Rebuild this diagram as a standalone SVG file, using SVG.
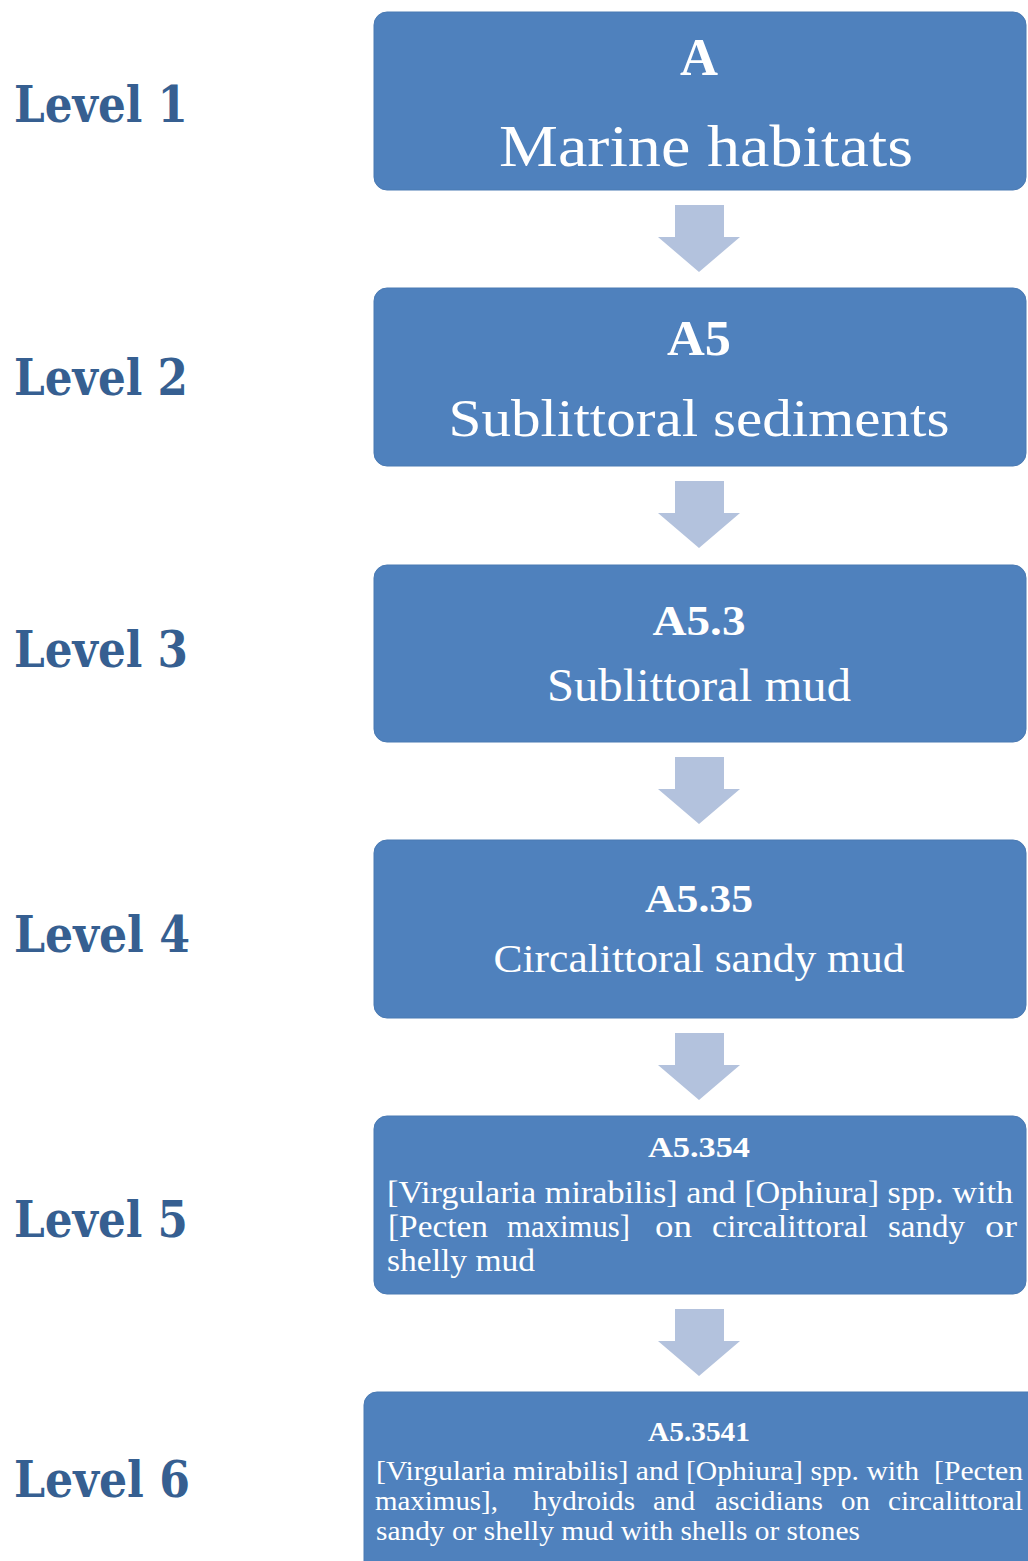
<svg xmlns="http://www.w3.org/2000/svg" width="1028" height="1561" viewBox="0 0 1028 1561">
<style>
.box{fill:#4f81bd;stroke:#4a7ab3;stroke-width:1}
.arrow{fill:#b3c2dd}
.lvl{font-family:"DejaVu Serif","Liberation Serif",serif;font-weight:bold;fill:#365f91;font-size:50px}
.t{font-family:"Liberation Serif","DejaVu Serif",serif;fill:#ffffff}
.b{font-weight:bold}
.c{text-anchor:middle}
</style>
<rect width="1028" height="1561" fill="#ffffff"/>
<g id="connectors">
<polygon class="arrow" points="675,205 724,205 724,237 740,237 699,272 658,237 675,237"/>
<polygon class="arrow" points="675,481 724,481 724,513 740,513 699,548 658,513 675,513"/>
<polygon class="arrow" points="675,757 724,757 724,789 740,789 699,824 658,789 675,789"/>
<polygon class="arrow" points="675,1033 724,1033 724,1065 740,1065 699,1100 658,1065 675,1065"/>
<polygon class="arrow" points="675,1309 724,1309 724,1341 740,1341 699,1376 658,1341 675,1341"/>
</g>
<g id="labels">
<text class="lvl" x="14" y="122" textLength="174" lengthAdjust="spacingAndGlyphs">Level 1</text>
<text class="lvl" x="14" y="395" textLength="174" lengthAdjust="spacingAndGlyphs">Level 2</text>
<text class="lvl" x="14" y="667" textLength="174" lengthAdjust="spacingAndGlyphs">Level 3</text>
<text class="lvl" x="14" y="952" textLength="176" lengthAdjust="spacingAndGlyphs">Level 4</text>
<text class="lvl" x="14" y="1237" textLength="174" lengthAdjust="spacingAndGlyphs">Level 5</text>
<text class="lvl" x="14" y="1497" textLength="176" lengthAdjust="spacingAndGlyphs">Level 6</text>
</g>
<g id="node1">
<rect class="box" x="374" y="12" width="652" height="178" rx="13"/>
<text class="t b c" x="699" y="75" font-size="52" textLength="38" lengthAdjust="spacingAndGlyphs">A</text>
<text class="t c" x="706" y="166" font-size="60" textLength="414" lengthAdjust="spacingAndGlyphs">Marine habitats</text>
</g>
<g id="node2">
<rect class="box" x="374" y="288" width="652" height="178" rx="13"/>
<text class="t b c" x="699" y="355" font-size="50" textLength="64" lengthAdjust="spacingAndGlyphs">A5</text>
<text class="t c" x="699" y="436" font-size="52" textLength="501" lengthAdjust="spacingAndGlyphs">Sublittoral sediments</text>
</g>
<g id="node3">
<rect class="box" x="374" y="565" width="652" height="177" rx="13"/>
<text class="t b c" x="699" y="635" font-size="42" textLength="93" lengthAdjust="spacingAndGlyphs">A5.3</text>
<text class="t c" x="699" y="701" font-size="46" textLength="304" lengthAdjust="spacingAndGlyphs">Sublittoral mud</text>
</g>
<g id="node4">
<rect class="box" x="374" y="840" width="652" height="178" rx="13"/>
<text class="t b c" x="699" y="912" font-size="40" textLength="108" lengthAdjust="spacingAndGlyphs">A5.35</text>
<text class="t c" x="699" y="972" font-size="40" textLength="411" lengthAdjust="spacingAndGlyphs">Circalittoral sandy mud</text>
</g>
<g id="node5">
<rect class="box" x="374" y="1116" width="652" height="178" rx="13"/>
<text class="t b c" x="699" y="1157" font-size="30" textLength="102" lengthAdjust="spacingAndGlyphs">A5.354</text>
<text class="t" x="387" y="1203" font-size="31" textLength="626" lengthAdjust="spacingAndGlyphs">[Virgularia mirabilis] and [Ophiura] spp. with</text>
<text class="t" y="1237" font-size="31" lengthAdjust="spacingAndGlyphs"><tspan x="388" textLength="100" lengthAdjust="spacingAndGlyphs">[Pecten</tspan> <tspan x="507" textLength="123" lengthAdjust="spacingAndGlyphs">maximus]</tspan> <tspan x="655" textLength="37" lengthAdjust="spacingAndGlyphs">on</tspan> <tspan x="712" textLength="156" lengthAdjust="spacingAndGlyphs">circalittoral</tspan> <tspan x="888" textLength="77" lengthAdjust="spacingAndGlyphs">sandy</tspan> <tspan x="985" textLength="32" lengthAdjust="spacingAndGlyphs">or</tspan></text>
<text class="t" x="387" y="1271" font-size="31" textLength="148" lengthAdjust="spacingAndGlyphs">shelly mud</text>
</g>
<g id="node6">
<rect class="box" x="364" y="1392" width="680" height="190" rx="13"/>
<text class="t b c" x="699" y="1441" font-size="27" textLength="102" lengthAdjust="spacingAndGlyphs">A5.3541</text>
<text class="t" x="376" y="1480" font-size="28" textLength="647" lengthAdjust="spacingAndGlyphs" xml:space="preserve">[Virgularia mirabilis] and [Ophiura] spp. with  [Pecten</text>
<text class="t" y="1510" font-size="28"><tspan x="375" textLength="123" lengthAdjust="spacingAndGlyphs">maximus],</tspan> <tspan x="533" textLength="102" lengthAdjust="spacingAndGlyphs">hydroids</tspan> <tspan x="653" textLength="42" lengthAdjust="spacingAndGlyphs">and</tspan> <tspan x="715" textLength="108" lengthAdjust="spacingAndGlyphs">ascidians</tspan> <tspan x="841" textLength="29" lengthAdjust="spacingAndGlyphs">on</tspan> <tspan x="888" textLength="135" lengthAdjust="spacingAndGlyphs">circalittoral</tspan></text>
<text class="t" x="376" y="1540" font-size="28" textLength="484" lengthAdjust="spacingAndGlyphs">sandy or shelly mud with shells or stones</text>
</g>
</svg>
